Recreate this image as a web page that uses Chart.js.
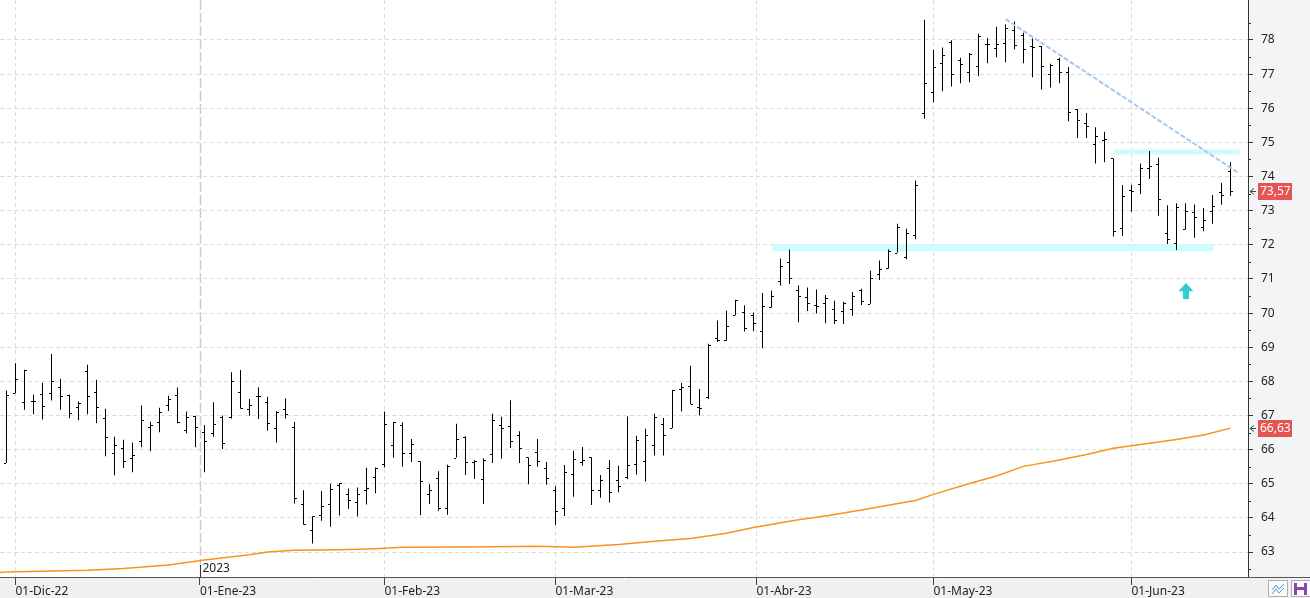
<!DOCTYPE html>
<html>
<head>
<meta charset="utf-8">
<script src="https://cdn.jsdelivr.net/npm/chart.js@4.4.1/dist/chart.umd.min.js"></script>
<style>
  html, body { margin: 0; padding: 0; background: #fff; }
  #wrap { width: 1310px; height: 598px; }
</style>
</head>
<body>
<div id="wrap"><canvas id="chart" width="1310" height="598"></canvas></div>
<script>
// daily OHLC, one entry per session (index 0 = 30-Nov-22)
const opens = [
  65.61, 67.66, 67.40, 67.43, 67.64, 67.66, 67.84, 67.61, 67.25, 68.29,
  67.69, 66.94, 65.90, 66.05, 65.76, 66.24, 66.67, 66.82, 67.31, 67.61,
  66.58, 66.99, 66.51, 66.49, 66.97, 66.96, 67.68, 67.18, 67.56, 67.41,
  66.62, 67.18, 66.65, 64.40, 63.66, 64.10, 64.40, 64.95, 64.71, 64.46,
  64.81, 65.19, 65.57, 66.13, 66.72, 65.90, 65.66, 64.69, 65.18, 64.29,
  65.77, 66.38, 65.63, 65.15, 65.87, 66.72, 66.69, 66.42, 65.78, 65.93,
  65.46, 64.81, 64.29, 65.28, 65.64, 65.78, 64.81, 65.46, 65.11, 65.20,
  65.58, 65.66, 66.14, 66.75, 66.63, 67.78, 67.86, 67.24, 67.54, 69.27,
  69.21, 69.94, 70.02, 69.94, 69.48, 70.18, 70.94, 71.51, 70.68, 70.46,
  70.24, 70.30, 70.12, 70.06, 70.12, 70.68, 70.27, 71.15, 71.33, 71.77,
  71.65, 72.29, 75.86, 76.49, 77.33, 77.95, 77.41, 77.06, 77.24, 77.88,
  77.77, 77.91, 78.30, 78.15, 77.82, 77.82, 77.00, 77.43, 77.06, 75.98,
  75.57, 74.96, 75.06, 74.53, 72.48, 73.61, 73.78, 74.24, 74.38, 72.36,
  72.04, 72.45, 72.95, 72.53, 72.99, 73.54, 74.16
];
const highs = [
  67.73, 68.53, 68.34, 67.61, 67.96, 68.80, 68.08, 67.61, 67.41, 68.49,
  68.05, 67.20, 66.38, 66.29, 66.21, 67.29, 66.82, 67.23, 67.58, 67.82,
  67.12, 66.99, 66.72, 67.39, 67.00, 68.27, 68.33, 67.48, 67.83, 67.55,
  67.13, 67.50, 66.81, 64.81, 64.05, 64.79, 65.00, 65.02, 64.86, 64.89,
  65.47, 65.48, 67.12, 66.81, 66.80, 66.31, 65.66, 64.99, 65.37, 65.56,
  66.76, 66.39, 65.69, 65.75, 67.05, 66.96, 67.45, 66.54, 65.78, 66.31,
  65.64, 64.93, 65.55, 65.97, 66.08, 65.78, 65.26, 65.70, 65.53, 66.97,
  66.41, 66.61, 67.05, 66.93, 67.75, 67.95, 68.46, 67.78, 69.10, 69.78,
  70.07, 70.39, 70.23, 70.02, 70.59, 70.66, 71.60, 71.86, 70.81, 70.75,
  70.69, 70.53, 70.36, 70.33, 70.62, 70.71, 71.24, 71.54, 71.87, 72.62,
  72.47, 73.88, 78.59, 77.71, 77.78, 77.99, 77.48, 77.62, 78.18, 78.06,
  78.39, 78.45, 78.54, 78.21, 78.04, 77.82, 77.30, 77.48, 77.21, 75.98,
  75.86, 75.44, 75.31, 74.53, 73.75, 73.76, 74.38, 74.75, 74.55, 73.16,
  73.22, 73.22, 73.18, 73.08, 73.46, 73.81, 74.42
];
const lows = [
  65.61, 67.65, 67.17, 67.04, 66.88, 67.44, 67.17, 66.92, 66.86, 67.04,
  66.77, 65.81, 65.25, 65.46, 65.34, 66.07, 65.95, 66.51, 67.13, 66.77,
  66.48, 66.07, 65.34, 66.38, 66.02, 66.91, 67.20, 66.99, 66.90, 66.55,
  66.21, 66.91, 64.42, 63.80, 63.25, 63.92, 63.74, 64.07, 64.27, 64.04,
  64.39, 64.72, 65.48, 65.76, 65.50, 65.64, 64.08, 64.41, 64.21, 64.09,
  65.77, 65.26, 65.14, 64.41, 65.61, 65.73, 66.05, 65.61, 64.99, 65.50,
  64.97, 63.79, 64.06, 64.62, 65.53, 64.38, 64.59, 64.45, 64.75, 65.14,
  65.27, 65.07, 65.83, 65.83, 66.63, 67.12, 67.33, 67.00, 67.48, 69.15,
  69.19, 69.94, 69.46, 69.47, 68.97, 70.16, 70.81, 70.85, 69.73, 70.06,
  69.99, 69.70, 69.68, 69.68, 69.92, 70.24, 70.27, 70.97, 71.30, 71.77,
  71.58, 72.16, 75.69, 76.17, 76.50, 76.64, 76.73, 76.76, 76.94, 77.32,
  77.49, 77.35, 77.73, 77.32, 76.91, 76.55, 76.61, 76.73, 75.62, 75.13,
  75.13, 74.38, 74.42, 72.24, 72.26, 72.97, 73.49, 73.93, 72.85, 72.02,
  71.85, 72.45, 72.21, 72.40, 72.62, 73.17, 73.44
];
const closes = [
  67.61, 68.07, 68.32, 67.43, 67.28, 68.02, 67.57, 67.06, 67.38, 67.57,
  67.25, 66.37, 66.14, 65.68, 65.85, 66.87, 66.72, 67.09, 67.49, 66.81,
  66.96, 66.65, 66.24, 66.74, 66.19, 68.00, 67.22, 67.31, 67.56, 66.78,
  67.09, 67.04, 64.58, 63.82, 64.05, 64.35, 64.86, 65.02, 64.52, 64.70,
  64.88, 65.46, 66.75, 66.80, 65.90, 66.16, 65.08, 64.81, 64.30, 65.51,
  66.30, 65.65, 65.67, 65.69, 66.86, 66.62, 66.24, 66.06, 65.54, 65.66,
  65.18, 64.19, 65.35, 65.72, 65.69, 64.81, 65.11, 64.76, 64.93, 65.55,
  66.28, 66.43, 66.96, 66.43, 67.75, 67.84, 67.33, 67.21, 69.06, 69.21,
  69.62, 70.38, 69.55, 69.70, 70.22, 70.50, 71.38, 71.03, 70.50, 70.30,
  70.21, 70.43, 69.80, 70.30, 70.50, 70.36, 71.03, 71.29, 71.83, 72.51,
  72.35, 73.76, 76.75, 77.21, 77.57, 77.01, 77.31, 77.59, 78.12, 77.88,
  77.88, 78.35, 77.85, 77.74, 77.79, 77.24, 77.27, 77.06, 75.89, 75.66,
  75.48, 75.18, 75.11, 72.39, 73.42, 73.59, 74.24, 74.30, 73.33, 72.16,
  73.10, 72.98, 72.80, 72.72, 73.13, 73.45, 73.57
];

// moving average, read at session positions
const maIndex = [-0.72, 0, 9, 13, 18, 22, 27, 29, 32, 37, 41, 44, 52, 59, 63, 68, 72, 76, 80, 83,
  88, 91, 95, 100, 101, 103, 107, 110, 113, 117, 120, 123, 126, 130, 133, 136];
const maValues = [62.40, 62.42, 62.47, 62.52, 62.62, 62.77, 62.92, 63.00, 63.05, 63.07, 63.10, 63.14,
  63.15, 63.17, 63.14, 63.22, 63.32, 63.40, 63.55, 63.72, 63.95, 64.06, 64.23, 64.47, 64.51,
  64.69, 65.01, 65.23, 65.51, 65.70, 65.86, 66.04, 66.15, 66.30, 66.43, 66.63];

// drawn studies
const trendLine = [{ x: 111.0, y: 78.61 }, { x: 136.8, y: 74.12 }];
const supportBand = [{ x: 85.1, y: 71.91 }, { x: 134.1, y: 71.91 }];
const resistBand = [{ x: 123.0, y: 74.72 }, { x: 137.0, y: 74.72 }];
const arrowMark = { x: 131.05, tip: 70.88, base: 70.64, foot: 70.41 };

// axes
const monthPos = [1, 21.5, 42, 61, 83.33, 103, 125];
const monthLabels = ["01-Dic-22", "01-Ene-23", "01-Feb-23", "01-Mar-23", "01-Abr-23", "01-May-23", "01-Jun-23"];
const yearMark = { pos: 21.5, label: "2023" };
const yTicks = [63, 64, 65, 66, 67, 68, 69, 70, 71, 72, 73, 74, 75, 76, 77, 78];

const FONT = "'Noto Sans', 'Open Sans', sans-serif";
const fmt = v => v.toFixed(2).replace(".", ",");

const hlData = opens.map((o, i) => ({ x: i, y: [lows[i], highs[i]] }));
const maData = maIndex.map((x, i) => ({ x: x, y: maValues[i] }));

const noPadding = s => {
  s.paddingTop = 0;
  s.paddingBottom = 0;
  s.paddingLeft = 0;
  s.paddingRight = 0;
};

const backgroundPlugin = {
  id: "backgroundPlugin",
  beforeDraw(chart) {
    const { ctx, chartArea: a, width, height } = chart;
    ctx.save();
    ctx.fillStyle = "#ffffff";
    ctx.fillRect(0, 0, width, height);
    ctx.fillStyle = "#f3f4f6";
    ctx.fillRect(a.right, 0, width - a.right, a.bottom);
    ctx.fillStyle = "#f0f0f0";
    ctx.fillRect(0, a.bottom, width, height - a.bottom);
    ctx.restore();
  },
  beforeDatasetsDraw(chart) {
    // year separator
    const { ctx, chartArea: a, scales: { x } } = chart;
    const px = Math.round(x.getPixelForValue(yearMark.pos)) + 0.5;
    ctx.save();
    ctx.strokeStyle = "#cccccc";
    ctx.lineWidth = 1.5;
    ctx.setLineDash([10, 3]);
    ctx.beginPath();
    ctx.moveTo(px, a.top);
    ctx.lineTo(px, a.bottom);
    ctx.stroke();
    ctx.restore();
  }
};

const ohlcTicks = {
  id: "ohlcTicks",
  afterDatasetsDraw(chart) {
    const { ctx, scales: { x, y } } = chart;
    ctx.save();
    ctx.fillStyle = "#000";
    for (let i = 0; i < opens.length; i++) {
      const px = x.getPixelForValue(i);
      const yo = Math.round(y.getPixelForValue(opens[i]));
      const yc = Math.round(y.getPixelForValue(closes[i]));
      ctx.fillRect(px - 2.5, yo, 2, 1);
      ctx.fillRect(px + 0.5, yc, 2, 1);
    }
    // arrow marker
    const ax = x.getPixelForValue(arrowMark.x);
    const yt = y.getPixelForValue(arrowMark.tip);
    const yb = y.getPixelForValue(arrowMark.base);
    const yf = y.getPixelForValue(arrowMark.foot);
    ctx.fillStyle = "#33cccc";
    ctx.beginPath();
    ctx.moveTo(ax, yt);
    ctx.lineTo(ax + 7.5, yb);
    ctx.lineTo(ax - 7.5, yb);
    ctx.closePath();
    ctx.fill();
    ctx.fillRect(ax - 3, yb - 0.5, 6, yf - yb + 0.5);
    ctx.restore();
  }
};

const axisExtras = {
  id: "axisExtras",
  afterDraw(chart) {
    const { ctx, chartArea: a, width, height, scales: { x, y } } = chart;
    ctx.save();
    // bottom axis line continues under the price axis
    ctx.strokeStyle = "#555";
    ctx.lineWidth = 1;
    ctx.beginPath();
    ctx.moveTo(a.right, a.bottom + 0.5);
    ctx.lineTo(width, a.bottom + 0.5);
    ctx.stroke();

    // minor ticks on the price axis
    ctx.strokeStyle = "#333";
    ctx.beginPath();
    for (let v = 62.5; v < 79; v += 0.5) {
      if (Number.isInteger(v)) continue;
      const py = Math.round(y.getPixelForValue(v)) + 0.5;
      ctx.moveTo(a.right, py);
      ctx.lineTo(a.right + 3, py);
    }
    ctx.stroke();

    // year marker
    const yx = Math.round(x.getPixelForValue(yearMark.pos)) + 0.5;
    ctx.beginPath();
    ctx.moveTo(yx, a.bottom);
    ctx.lineTo(yx, a.bottom - 12);
    ctx.stroke();
    ctx.fillStyle = "#222";
    ctx.font = "12px " + FONT;
    ctx.textBaseline = "middle";
    ctx.textAlign = "left";
    ctx.fillText(yearMark.label, yx + 2, a.bottom - 8);

    // last value labels
    const tags = [closes[closes.length - 1], maValues[maValues.length - 1]];
    tags.forEach(v => {
      const py = Math.round(y.getPixelForValue(v));
      ctx.fillStyle = "#e35654";
      ctx.fillRect(a.right + 10, py - 8, 34, 17);
      ctx.fillStyle = "#fff";
      ctx.fillText(fmt(v), a.right + 12, py + 1);
      ctx.strokeStyle = "#444";
      ctx.beginPath();
      ctx.moveTo(a.right + 6, py - 2.5);
      ctx.lineTo(a.right + 2, py + 0.5);
      ctx.lineTo(a.right + 6, py + 3.5);
      ctx.moveTo(a.right + 2, py + 0.5);
      ctx.lineTo(a.right + 8, py + 0.5);
      ctx.stroke();
    });

    // toolbar buttons
    ctx.fillStyle = "#fafafa";
    ctx.strokeStyle = "#b0b0b0";
    ctx.fillRect(1268, 580, 20, 17);
    ctx.strokeRect(1268.5, 580.5, 19, 16);
    ctx.fillRect(1291, 580, 19, 17);
    ctx.strokeRect(1291.5, 580.5, 19, 16);
    ctx.strokeStyle = "#5b9bd5";
    ctx.beginPath();
    ctx.moveTo(1272, 590); ctx.lineTo(1276, 585); ctx.lineTo(1279, 589); ctx.lineTo(1284, 584);
    ctx.moveTo(1272, 594); ctx.lineTo(1276, 589); ctx.lineTo(1279, 593); ctx.lineTo(1284, 588);
    ctx.stroke();
    ctx.fillStyle = "#8e44ad";
    ctx.fillRect(1294, 583, 13, 12);
    ctx.fillStyle = "#fff";
    ctx.fillRect(1297, 583, 7, 4);
    ctx.fillRect(1297, 590, 7, 5);
    ctx.restore();
  }
};

const ctx = document.getElementById("chart").getContext("2d");

new Chart(ctx, {
  type: "line",
  data: {
    datasets: [
      {
        type: "line",
        data: supportBand,
        borderColor: "#ccfcfd",
        borderWidth: 7,
        pointRadius: 0,
        order: 10
      },
      {
        type: "line",
        data: resistBand,
        borderColor: "#ccfcfd",
        borderWidth: 5,
        pointRadius: 0,
        order: 9
      },
      {
        type: "line",
        data: maData,
        borderColor: "#f7941d",
        borderWidth: 1.5,
        pointRadius: 0,
        tension: 0,
        order: 8
      },
      {
        type: "bar",
        data: hlData,
        backgroundColor: "#000",
        borderWidth: 0,
        barThickness: 1,
        inflateAmount: 0,
        order: 2
      },
      {
        type: "line",
        data: trendLine,
        borderColor: "#a7c7ee",
        borderWidth: 2,
        borderDash: [5, 2],
        pointRadius: 0,
        order: 1
      }
    ]
  },
  options: {
    responsive: false,
    animation: false,
    devicePixelRatio: 1,
    layout: { padding: 0 },
    plugins: {
      legend: { display: false },
      tooltip: { enabled: false }
    },
    scales: {
      x: {
        type: "linear",
        min: -6.5 / 9,
        max: (1248 - 6.5) / 9,
        offset: false,
        afterBuildTicks: s => { s.ticks = monthPos.map(v => ({ value: v })); },
        afterFit: s => { s.height = 21; noPadding(s); },
        grid: {
          offset: false,
          color: c => (c.index === 1 ? "rgba(0,0,0,0)" : "#dcdcdc"),
          lineWidth: 1,
          tickLength: 8,
          tickColor: "#444"
        },
        border: { color: "#555", width: 1, dash: [4, 3] },
        ticks: {
          autoSkip: false,
          maxRotation: 0,
          align: "start",
          padding: -1,
          color: "#222",
          font: { family: FONT, size: 12 },
          callback: (v, i) => monthLabels[i]
        }
      },
      y: {
        type: "linear",
        position: "right",
        min: 62.27,
        max: 79.17,
        afterBuildTicks: s => { s.ticks = yTicks.map(v => ({ value: v })); },
        afterFit: s => { s.width = 62; noPadding(s); },
        grid: {
          color: "#dcdcdc",
          lineWidth: 1,
          tickLength: 5,
          tickColor: "#333"
        },
        border: { color: "#333", width: 1, dash: [4, 3] },
        ticks: {
          padding: 8,
          color: "#222",
          font: { family: FONT, size: 12 },
          callback: v => String(v)
        }
      }
    }
  },
  plugins: [backgroundPlugin, ohlcTicks, axisExtras]
});
</script>
</body>
</html>
